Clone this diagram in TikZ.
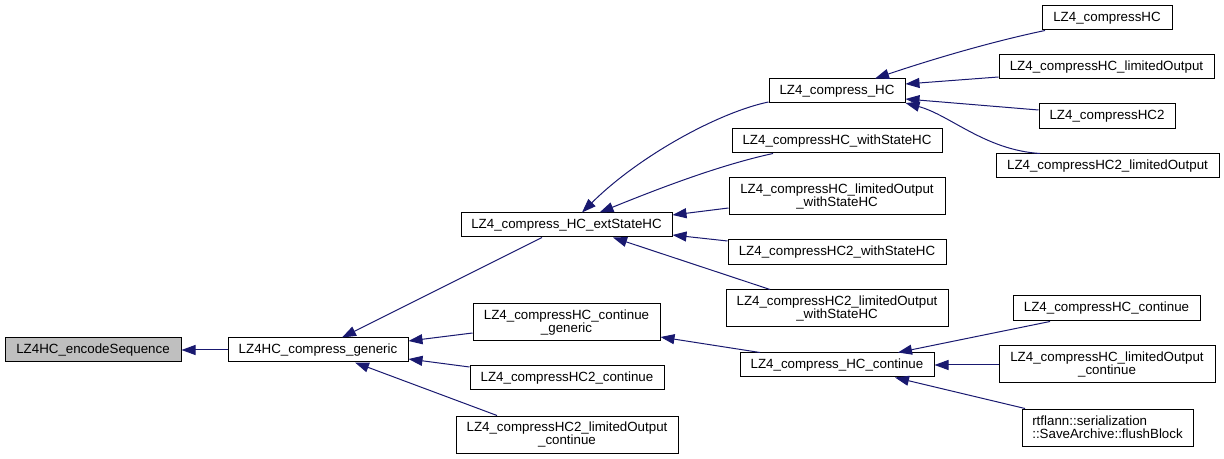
\documentclass[tikz,border=0pt]{standalone}
\usepackage{fontspec}
\setmainfont{Liberation Sans}
\usetikzlibrary{arrows.meta,calc}
\definecolor{edgeblue}{HTML}{191970}
\begin{document}
\begin{tikzpicture}[x=0.75pt,y=-0.75pt,
  box/.style={draw=black, line width=0.75pt, fill=white, inner sep=0pt,
    font=\fontsize{10}{9.5}\selectfont, align=center, minimum height=18pt},
  tall/.style={minimum height=27.75pt},
  conn/.style={draw=edgeblue, line width=0.75pt, {Triangle[length=10.5pt,width=7.5pt]}-}]
\useasboundingbox (0,0) rectangle (1224,459);
% nodes
\node[box, fill=gray!50, minimum width=132pt] (enc) at (93,350) {LZ4HC\_encodeSequence};
\node[box, minimum width=135pt] (gen) at (318,350) {LZ4HC\_compress\_generic};
\node[box, minimum width=158.25pt] (ext) at (566.5,225) {LZ4\_compress\_HC\_extStateHC};
\node[box, tall, minimum width=140.25pt] (cg) at (566.5,322.5) {LZ4\_compressHC\_continue\\\_generic};
\node[box, minimum width=145.5pt] (c2c) at (567,378) {LZ4\_compressHC2\_continue};
\node[box, tall, minimum width=166.5pt] (c2lc) at (567,434.5) {LZ4\_compressHC2\_limitedOutput\\\_continue};
\node[box, tall, minimum width=162pt] (low) at (837,196.5) {LZ4\_compressHC\_limitedOutput\\\_withStateHC};
\node[box, minimum width=163.5pt, minimum height=18.75pt] (c2w) at (837,252.5) {LZ4\_compressHC2\_withStateHC};
\node[box, tall, minimum width=166.5pt] (c2low) at (837,308.5) {LZ4\_compressHC2\_limitedOutput\\\_withStateHC};
\node[box, minimum width=145.5pt] (hcc) at (837,365) {LZ4\_compress\_HC\_continue};
\node[box, minimum width=102pt] (hc) at (837,91) {LZ4\_compress\_HC};
\node[box, minimum width=157.5pt] (cw) at (837,141) {LZ4\_compressHC\_withStateHC};
\node[box, minimum width=97.5pt] (c) at (1107,18) {LZ4\_compressHC};
\node[box, minimum width=161.25pt] (clo) at (1106.5,67) {LZ4\_compressHC\_limitedOutput};
\node[box, minimum width=102pt, minimum height=18.75pt] (c2) at (1107,116.5) {LZ4\_compressHC2};
\node[box, minimum width=167.25pt] (c2lo) at (1107.5,166) {LZ4\_compressHC2\_limitedOutput};
\node[box, minimum width=140.25pt, minimum height=18.75pt] (cc) at (1106.5,308.5) {LZ4\_compressHC\_continue};
\node[box, tall, minimum width=162pt] (cloc) at (1107,364.5) {LZ4\_compressHC\_limitedOutput\\\_continue};
\node[box, tall, minimum width=128.25pt, align=left] (fb) at (1107.5,427.5) {rtflann::serialization\\::SaveArchive::flushBlock};
% edges
\draw[conn] (enc.east) -- (gen.west);
\draw[conn] ($(gen.north)+(24,0)$) -- ($(ext.south)+(-24.5,0)$);
\draw[conn] ($(gen.east)+(0,-9)$) -- ($(cg.west)+(0,10.5)$);
\draw[conn] ($(gen.east)+(0,9)$) -- ($(c2c.west)+(0,-11)$);
\draw[conn] ($(gen.south)+(37,0)$) -- ($(c2lc.north)+(-70,0)$);
\draw[conn] ($(ext.north)+(15.5,0)$) .. controls (640,155) and (720,112) .. ($(hc.west)+(0,11)$);
\draw[conn] ($(ext.north)+(33,0)$) .. controls (660,188) and (720,165) .. ($(cw.south)+(-64,0)$);
\draw[conn] ($(ext.east)+(0,-10)$) -- ($(low.west)+(0,11.5)$);
\draw[conn] ($(ext.east)+(0,10)$) -- ($(c2w.west)+(0,-11.5)$);
\draw[conn] ($(ext.south)+(46.5,0)$) -- ($(c2low.north)+(-67,0)$);
\draw[conn] ($(cg.east)+(0,14.5)$) -- ($(hcc.north)+(-77,0)$);
\draw[conn] ($(hc.north)+(38,0)$) .. controls (930,60) and (990,42) .. ($(c.south)+(-62,0)$);
\draw[conn] ($(hc.east)+(0,-7)$) -- ($(clo.west)+(0,10)$);
\draw[conn] ($(hc.east)+(0,8)$) -- ($(c2.west)+(0,-6.5)$);
\draw[conn] ($(hc.east)+(0,12)$) .. controls (950,115) and (985,150) .. ($(c2lo.north)+(-67.5,0)$);
\draw[conn] ($(hcc.north)+(61,0)$) -- ($(cc.south)+(-56.5,0)$);
\draw[conn] (hcc.east) -- (hcc.east -| cloc.west);
\draw[conn] ($(hcc.south)+(58,0)$) -- ($(fb.north)+(-82.5,0)$);
\end{tikzpicture}
\end{document}
